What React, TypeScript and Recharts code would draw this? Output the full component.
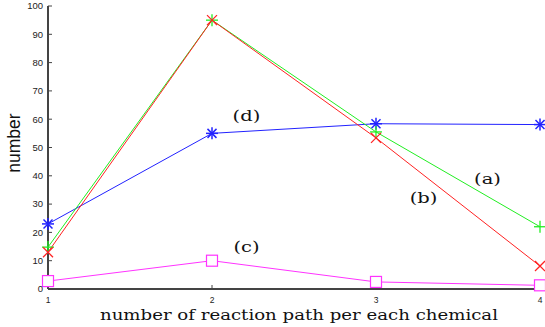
import React from 'react';
import { LineChart, Line, XAxis, YAxis, ReferenceDot } from 'recharts';

const categories = [1, 2, 3, 4];
const seriesA = [14.8, 95, 55.5, 22]; // (a) green
const seriesB = [13, 95, 53.4, 8.1]; // (b) red
const seriesC = [2.8, 10, 2.5, 1.3]; // (c) magenta
const seriesD = [23, 55, 58.4, 58.1]; // (d) blue
const yTicks = [0, 10, 20, 30, 40, 50, 60, 70, 80, 90, 100];
const xTicks = [1, 2, 3, 4];
const annotations = [
  { text: '(a)', x: 3.68, y: 38.6 },
  { text: '(b)', x: 3.29, y: 31.6 },
  { text: '(c)', x: 2.21, y: 14.6 },
  { text: '(d)', x: 2.21, y: 60.6 },
];

const data = categories.map((c, i) => ({
  x: c,
  a: seriesA[i],
  b: seriesB[i],
  c: seriesC[i],
  d: seriesD[i],
}));

const AXIS = '#444';

const PlusDot = (p: any) => (
  <g key={p.key}>
    <line x1={p.cx - 6} y1={p.cy} x2={p.cx + 6} y2={p.cy} stroke={p.stroke} strokeWidth={1.3} />
    <line x1={p.cx} y1={p.cy - 6} x2={p.cx} y2={p.cy + 6} stroke={p.stroke} strokeWidth={1.3} />
  </g>
);
const CrossDot = (p: any) => (
  <g key={p.key}>
    <line x1={p.cx - 5} y1={p.cy - 5} x2={p.cx + 5} y2={p.cy + 5} stroke={p.stroke} strokeWidth={1.3} />
    <line x1={p.cx - 5} y1={p.cy + 5} x2={p.cx + 5} y2={p.cy - 5} stroke={p.stroke} strokeWidth={1.3} />
  </g>
);
const StarDot = (p: any) => (
  <g key={p.key}>
    <line x1={p.cx - 6} y1={p.cy} x2={p.cx + 6} y2={p.cy} stroke={p.stroke} strokeWidth={1.5} />
    <line x1={p.cx} y1={p.cy - 6} x2={p.cx} y2={p.cy + 6} stroke={p.stroke} strokeWidth={1.5} />
    <line x1={p.cx - 4.5} y1={p.cy - 4.5} x2={p.cx + 4.5} y2={p.cy + 4.5} stroke={p.stroke} strokeWidth={1.5} />
    <line x1={p.cx - 4.5} y1={p.cy + 4.5} x2={p.cx + 4.5} y2={p.cy - 4.5} stroke={p.stroke} strokeWidth={1.5} />
  </g>
);
const SquareDot = (p: any) => (
  <rect key={p.key} x={p.cx - 5.5} y={p.cy - 5.5} width={11} height={11} fill="#fff" stroke={p.stroke} strokeWidth={1.2} />
);

const emptyTick = () => <g />;

export default function App() {
  return (
    <div style={{ position: 'absolute', left: 0, top: 0 }}>
      <LineChart width={545} height={327} data={data} margin={{ top: 6, right: 5, bottom: 0, left: 0 }}>
        <XAxis
          xAxisId="bottom"
          dataKey="x"
          type="number"
          domain={[1, 4]}
          ticks={xTicks}
          height={38}
          tickSize={-4}
          tickMargin={12}
          axisLine={{ stroke: AXIS, strokeWidth: 2 }}
          tickLine={{ stroke: AXIS }}
          tick={{ fontSize: 8.5, fill: '#222', fontFamily: 'Liberation Sans, Arial, sans-serif' }}
          label={() => (
            <text
              x={100}
              y={320}
              textAnchor="start"
              textLength={398}
              lengthAdjust="spacingAndGlyphs"
              fontSize={15.5}
              fill="#111"
              fontFamily="DejaVu Serif, serif"
            >
              number of reaction path per each chemical
            </text>
          )}
        />
        <XAxis
          xAxisId="top"
          orientation="top"
          dataKey="x"
          type="number"
          domain={[1, 4]}
          ticks={xTicks}
          height={0}
          tickSize={-4}
          axisLine={{ stroke: AXIS, strokeWidth: 2 }}
          tickLine={{ stroke: AXIS }}
          tick={emptyTick}
        />
        <YAxis
          yAxisId="left"
          type="number"
          domain={[0, 100]}
          ticks={yTicks}
          width={48}
          tickSize={-4}
          tickMargin={9}
          axisLine={{ stroke: AXIS, strokeWidth: 2 }}
          tickLine={{ stroke: AXIS }}
          tick={{ fontSize: 9.5, fill: '#222', fontFamily: 'Liberation Sans, Arial, sans-serif' }}
          label={() => (
            <text
              x={15}
              y={143}
              transform="rotate(-90 15 143)"
              textAnchor="middle"
              dominantBaseline="middle"
              fontSize={17.5}
              fill="#111"
              fontFamily="Liberation Sans, Arial, sans-serif"
            >
              number
            </text>
          )}
        />
        <YAxis
          yAxisId="right"
          orientation="right"
          type="number"
          domain={[0, 100]}
          ticks={yTicks}
          width={0}
          tickSize={-4}
          axisLine={{ stroke: AXIS, strokeWidth: 2 }}
          tickLine={{ stroke: AXIS }}
          tick={emptyTick}
        />
        <Line xAxisId="bottom" yAxisId="left" dataKey="c" stroke="#ff33ff" strokeWidth={1} dot={SquareDot} isAnimationActive={false} />
        <Line xAxisId="bottom" yAxisId="left" dataKey="d" stroke="#2222ff" strokeWidth={1} dot={StarDot} isAnimationActive={false} />
        <Line xAxisId="bottom" yAxisId="left" dataKey="a" stroke="#22ee22" strokeWidth={1} dot={PlusDot} isAnimationActive={false} />
        <Line xAxisId="bottom" yAxisId="left" dataKey="b" stroke="#ff2222" strokeWidth={1} dot={CrossDot} isAnimationActive={false} />
        {annotations.map((a) => (
          <ReferenceDot
            key={a.text}
            xAxisId="bottom"
            yAxisId="left"
            x={a.x}
            y={a.y}
            r={0}
            shape={(p: any) => (
              <text
                transform={`translate(${p.cx} ${p.cy}) scale(1.3 1)`}
                x={0}
                y={0}
                textAnchor="middle"
                dominantBaseline="middle"
                fontSize={15}
                fill="#111"
                fontFamily="DejaVu Serif, serif"
              >
                {a.text}
              </text>
            )}
          />
        ))}
      </LineChart>
    </div>
  );
}
